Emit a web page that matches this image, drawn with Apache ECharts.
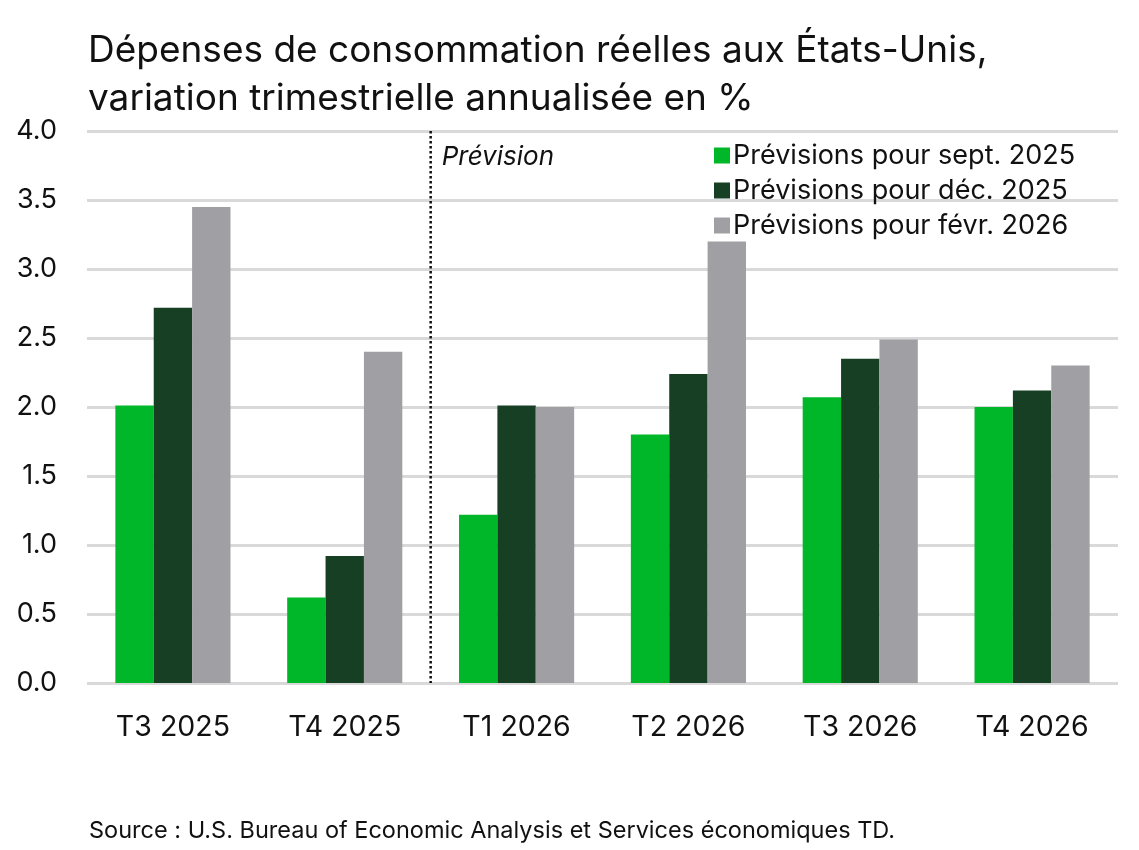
<!DOCTYPE html>
<html>
<head>
<meta charset="utf-8">
<script src="https://cdn.jsdelivr.net/npm/echarts@6/dist/echarts.min.js"></script>
<style>
  html, body { margin: 0; padding: 0; background: #fff; }
  #chart { width: 1139px; height: 850px; }
</style>
</head>
<body>
<div id="chart"></div>
<script>
const categories = ['T3 2025', 'T4 2025', 'T1 2026', 'T2 2026', 'T3 2026', 'T4 2026'];
const seriesNames = ['Prévisions pour sept. 2025', 'Prévisions pour déc. 2025', 'Prévisions pour févr. 2026'];
const sept2025 = [2.01, 0.62, 1.22, 1.80, 2.07, 2.00];
const dec2025 = [2.72, 0.92, 2.01, 2.24, 2.35, 2.12];
const fev2026 = [3.45, 2.40, 2.00, 3.20, 2.49, 2.30];
const yTicks = [0, 0.5, 1, 1.5, 2, 2.5, 3, 3.5, 4];
const forecastStart = 2; // index of first forecast category

const font = 'Inter, "Noto Sans", sans-serif';
const colors = ['#00b72a', '#173f24', '#a0a0a4'];

const chart = echarts.init(document.getElementById('chart'));

chart.setOption({
  animation: false,
  textStyle: { fontFamily: font },
  title: {
    text: 'Dépenses de consommation réelles aux États-Unis,\nvariation trimestrielle annualisée en %',
    left: 83,
    top: 22,
    textStyle: { fontSize: 37, fontWeight: 'normal', color: '#111', lineHeight: 48, fontFamily: font }
  },
  legend: {
    orient: 'vertical',
    left: 709,
    top: 137,
    itemWidth: 16,
    itemHeight: 16,
    itemGap: 8,
    icon: 'rect',
    data: seriesNames,
    textStyle: { fontSize: 27, color: '#111', fontFamily: font, padding: [0, 0, 0, -2] }
  },
  grid: { left: 87, right: 21, top: 131, bottom: 167 },
  xAxis: {
    type: 'category',
    data: categories,
    axisLine: { show: false },
    axisTick: { show: false },
    axisLabel: { fontSize: 28.5, color: '#111', margin: 30, fontFamily: font }
  },
  yAxis: {
    type: 'value',
    min: yTicks[0],
    max: yTicks[yTicks.length - 1],
    interval: 0.5,
    axisLine: { show: false },
    axisTick: { show: false },
    axisLabel: {
      fontSize: 27, color: '#111', margin: 30, fontFamily: font,
      formatter: v => v.toFixed(1)
    },
    splitLine: { lineStyle: { color: '#d9d9d9', width: 3 } }
  },
  series: [sept2025, dec2025, fev2026].map((d, i) => ({
    name: seriesNames[i],
    type: 'bar',
    data: d,
    barGap: '0%',
    barCategoryGap: '33%',
    itemStyle: { color: colors[i] }
  }))
});

// dotted separator between actuals and forecast
const xa = chart.convertToPixel({ xAxisIndex: 0 }, forecastStart - 1);
const xb = chart.convertToPixel({ xAxisIndex: 0 }, forecastStart);
const xm = (xa + xb) / 2;
const yTop = chart.convertToPixel({ yAxisIndex: 0 }, yTicks[yTicks.length - 1]);
const yBot = chart.convertToPixel({ yAxisIndex: 0 }, yTicks[0]);

chart.setOption({
  graphic: [
    {
      type: 'line',
      shape: { x1: xm, y1: yTop, x2: xm, y2: yBot },
      style: { stroke: '#111', lineWidth: 2.5, lineDash: [2.5, 2.5] },
      z: 10
    },
    {
      type: 'text',
      left: xm + 11,
      top: yTop + 13,
      style: { text: 'Prévision', fontSize: 26, fontStyle: 'italic', fill: '#111', fontFamily: font }
    },
    {
      type: 'text',
      left: 89,
      top: 819,
      style: { text: 'Source : U.S. Bureau of Economic Analysis et Services économiques TD.', fontSize: 23.5, fill: '#111', fontFamily: font }
    }
  ]
});
</script>
</body>
</html>
